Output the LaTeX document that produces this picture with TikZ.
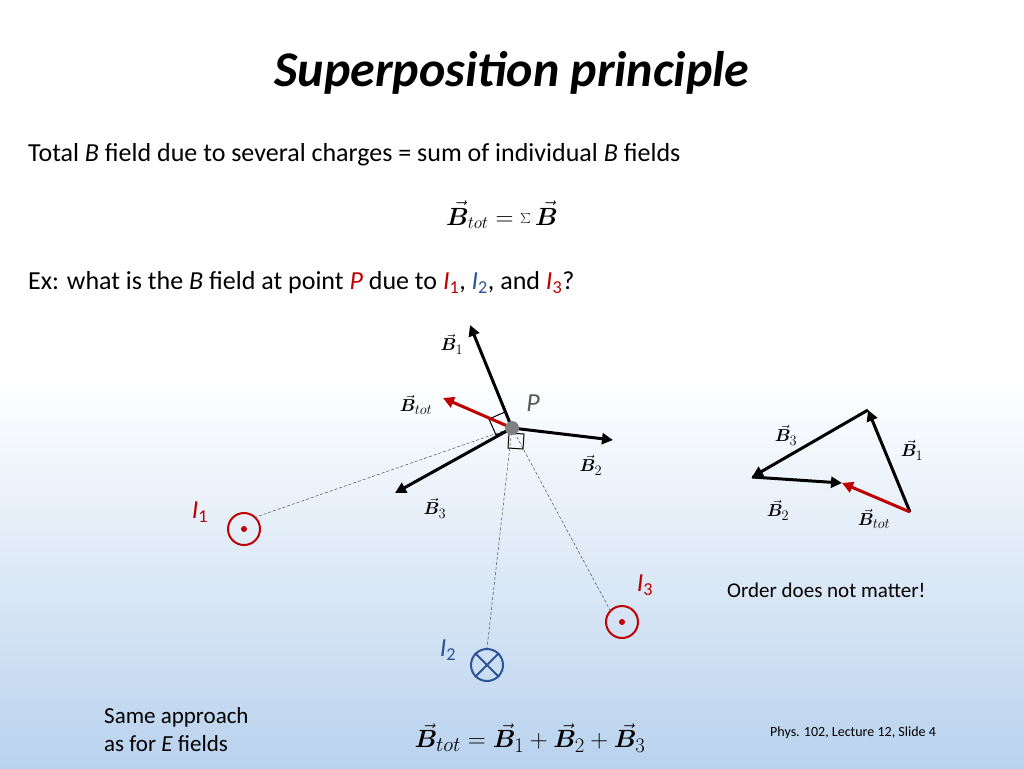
\documentclass[tikz,border=0pt]{standalone}
\usepackage{fontspec}
\usepackage{bm}
\setmainfont{Carlito}
\usetikzlibrary{arrows.meta}
\definecolor{cred}{RGB}{192,0,0}
\definecolor{cblue}{RGB}{46,84,150}
\definecolor{bgblue}{RGB}{185,210,238}
\tikzset{
  vec/.style={line width=3pt,-{Triangle[length=11pt,width=11pt]}},
  rvec/.style={vec,draw=cred},
  dl/.style={densely dashed,line width=0.5pt,draw=black!70},
  lbl/.style={font=\fontsize{19}{20}\selectfont},
  txt/.style={font=\fontsize{26}{30}\selectfont,anchor=west,inner sep=0},
  cur/.style={circle,draw,line width=2pt,minimum size=32pt,inner sep=0},
}
\newcommand{\VB}[1]{$\vec{\bm{B}}_{#1}$}
\newcommand{\CI}[2]{{\color{#1}\textit{I}\textsubscript{#2}}}
\begin{document}
\begin{tikzpicture}[x=1pt,y=-1pt]
\useasboundingbox (0,0) rectangle (1024,768);
\fill[white] (0,0) rectangle (1024,380);
\shade[top color=white,bottom color=bgblue] (0,380) rectangle (1024,768);
\node (title) at (512,73) {\fontsize{50}{56}\selectfont\bfseries\itshape Superposition principle};
\node[txt] (t1) at (28,155) {Total \textit{B} field due to several charges = sum of individual \textit{B} fields};
\node (eq1) at (502,215) {\fontsize{26}{30}\selectfont $\vec{\bm{B}}_{tot}=\sum\vec{\bm{B}}$};
\node[txt] (t2) at (28,283) {Ex: what is the \textit{B} field at point {\color{cred}\textit{P}} due to \CI{cred}{1}, \CI{cblue}{2}, and \CI{cred}{3}?};
% point P
\coordinate (P) at (512,428);
\node[cur,draw=cred] (I1) at (244,529) {};
\fill[cred] (I1) circle (3pt);
\node[cur,draw=cblue] (I2) at (487,665) {};
\draw[cblue,line width=2pt] (I2.north east)--(I2.south west) (I2.north west)--(I2.south east);
\node[cur,draw=cred] (I3) at (622,622) {};
\fill[cred] (I3) circle (3pt);
\draw[dl] (P)--(I1.north east);
\draw[dl] (P)--(I2.north);
\draw[dl] (P)--(I3.north west);
% right-angle boxes
\draw[line width=1pt] (P) -- ++(-16,7) -- ++(-7,-16) -- ++(16,-7);
\draw[line width=1pt] (P) ++(-3,5) -- ++(15,1) -- ++(-1,15) -- ++(-15,-1) -- cycle;
\draw[vec] (P) -- (470,325) coordinate (b1);
\draw[rvec] (P) -- (443,398) coordinate (bt);
\draw[vec] (P) -- (613,440) coordinate (b2);
\draw[vec] (P) -- (395,493) coordinate (b3);
\fill[gray] (P) circle (7pt);
\node[lbl] (lb1) at (452,344) {\VB{1}};
\node[lbl] (lbt) at (416,405) {\VB{tot}};
\node[lbl] (lb2) at (591,465) {\VB{2}};
\node[lbl] (lb3) at (435,508) {\VB{3}};
\node (lP) at (533,403) {\fontsize{26}{30}\selectfont\color{black!65}\textit{P}};
\node (lI1) at (200,512) {\fontsize{26}{30}\selectfont\CI{cred}{1}};
\node (lI2) at (448,650) {\fontsize{26}{30}\selectfont\CI{cblue}{2}};
\node (lI3) at (645,585) {\fontsize{26}{30}\selectfont\CI{cred}{3}};
% triangle
\coordinate (T0) at (910,512);
\coordinate (T1) at (868,410);
\coordinate (T2) at (752,477);
\coordinate (T3) at (842,483);
\draw[vec] (T0)--(T1);
\draw[vec] (T1)--(T2);
\draw[vec] (T2)--(T3);
\draw[rvec] (T0)--(T3);
\node[lbl] (tb3) at (786,435) {\VB{3}};
\node[lbl] (tb1) at (912,450) {\VB{1}};
\node[lbl] (tb2) at (778,510) {\VB{2}};
\node[lbl] (tbt) at (874,519) {\VB{tot}};
\node[txt,font=\fontsize{21}{24}\selectfont] (ord) at (727,590) {Order does not matter!};
\node[txt,font=\fontsize{23}{28}\selectfont,align=left] (same) at (104,730) {Same approach\\as for \textit{E} fields};
\node (eq2) at (530,738) {\fontsize{30}{34}\selectfont $\vec{\bm{B}}_{tot}=\vec{\bm{B}}_1+\vec{\bm{B}}_2+\vec{\bm{B}}_3$};
\node[txt,font=\fontsize{14}{16}\selectfont] (foot) at (770,733) {Phys. 102, Lecture 12, Slide 4};
\end{tikzpicture}
\end{document}
